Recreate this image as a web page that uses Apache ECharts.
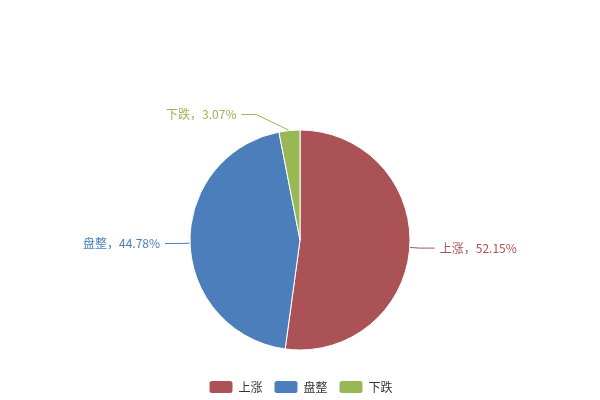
<!DOCTYPE html>
<html><head><meta charset="utf-8">
<script src="https://cdn.jsdelivr.net/npm/echarts@6/dist/echarts.min.js"></script>
<style>html,body{margin:0;padding:0;background:#fff}#c{width:600px;height:400px}</style>
</head><body><div id="c"></div>
<script>
const categories = ['上涨', '盘整', '下跌'];
const values = [52.15, 44.78, 3.07];
const colors = ['#AB5257', '#4B7EBB', '#97B853'];
const chart = echarts.init(document.getElementById('c'));
chart.setOption({
  animation: false,
  color: colors,
  legend: {
    data: categories,
    bottom: 0,
    itemWidth: 25,
    itemHeight: 14,
    itemGap: 10,
    textStyle: { fontSize: 12, color: '#333', fontFamily: 'Noto Sans CJK SC' }
  },
  series: [{
    type: 'pie',
    center: ['50%', '60%'],
    radius: 110,
    startAngle: 90,
    data: categories.map((c, i) => ({ name: c, value: values[i] })),
    label: {
      formatter: p => p.name + '，' + p.value.toFixed(2) + '%',
      fontSize: 12,
      color: 'inherit',
      fontFamily: 'Noto Sans CJK SC'
    },
    labelLine: { length: 10, length2: 15 },
    labelLayout: function (params) {
      if (params.dataIndex !== 2) return {};
      const r = params.labelRect;
      const pts = params.labelLinePoints;
      const right = r.x + r.width - 32;
      const cy = r.y + r.height / 2 - 6;
      const end = [right + 5, cy];
      const bend = [end[0] + 15, cy];
      return { x: right, y: cy, labelLinePoints: [pts[0], bend, end] };
    },
    itemStyle: { borderColor: '#fff', borderWidth: 1 }
  }]
});
</script></body></html>
